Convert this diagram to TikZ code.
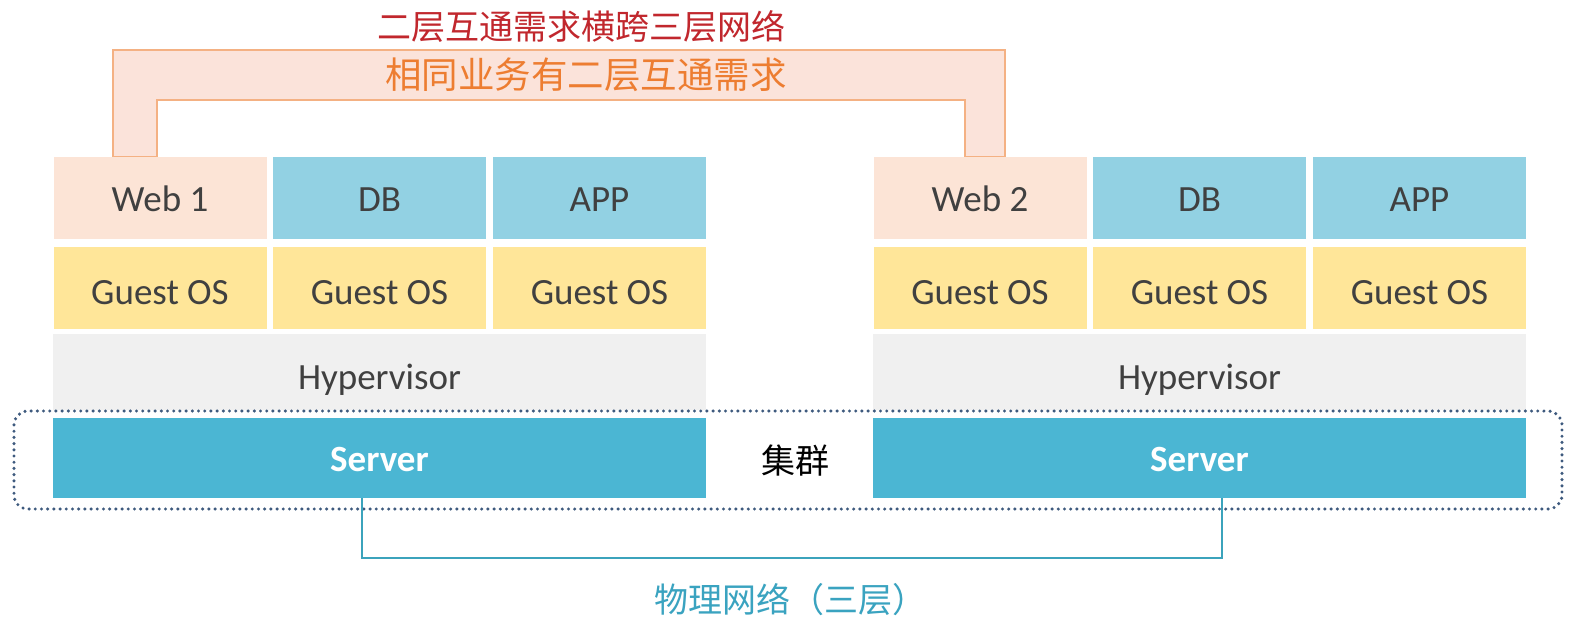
\documentclass[tikz,border=0pt]{standalone}
\usepackage{fontspec}
\setmainfont{Carlito}
\newfontfamily\cjk{Noto Sans CJK SC}
\definecolor{webfill}{HTML}{FCE4D6}
\definecolor{appfill}{HTML}{92D1E3}
\definecolor{osfill}{HTML}{FFE699}
\definecolor{hvfill}{HTML}{F0F0F0}
\definecolor{srvfill}{HTML}{4BB6D3}
\definecolor{txtgray}{HTML}{404040}
\definecolor{brfill}{HTML}{FBE3DA}
\definecolor{brline}{HTML}{F4B183}
\definecolor{netline}{HTML}{3BA3BC}
\definecolor{clusterline}{HTML}{3E5A7E}
\definecolor{redtxt}{HTML}{C1272D}
\definecolor{orangetxt}{HTML}{ED7D31}
\definecolor{tealtxt}{HTML}{3AA3C0}
\begin{document}
\begin{tikzpicture}[x=1pt,y=-1pt,
  blk/.style={inner sep=0pt, outer sep=0pt, text=txtgray, font=\fontsize{37}{40}\selectfont, text depth=0pt},
  vmbox/.style={blk, minimum width=213pt, minimum height=82pt},
  webbox/.style={vmbox, fill=webfill, text height=26pt},
  appbox/.style={vmbox, fill=appfill, text height=26pt},
  osbox/.style={vmbox, fill=osfill, text height=32pt},
  hvbox/.style={blk, fill=hvfill, minimum width=653pt, minimum height=76pt, text height=35pt},
  srvbox/.style={blk, fill=srvfill, text=white, font=\fontsize{37}{40}\selectfont\bfseries, minimum width=653pt, minimum height=80pt, text height=26pt},
  cjklabel/.style={inner sep=0pt, font=\cjk\fontsize{34}{38}\selectfont},
  bracket/.style={fill=brfill, draw=brline, line width=1.5pt},
  netwire/.style={draw=netline, line width=2pt},
  cluster/.style={draw=clusterline, line width=3.4pt, line cap=round, dash pattern=on 0pt off 6.2pt, rounded corners=14pt}
]
\useasboundingbox (0,0) rectangle (1569,618);
\fill[white] (0,0) rectangle (1569,618);

% orange bracket
\path[bracket] (113,157) -- (113,50) -- (1005,50) -- (1005,157) -- (965,157) -- (965,100) -- (157,100) -- (157,157) -- cycle;

% left host
\node[webbox] (web1) at (160,198) {Web 1};
\node[appbox] (db1) at (379.5,198) {DB};
\node[appbox] (app1) at (599.5,198) {APP};
\node[osbox] (os11) at (160,288) {Guest OS};
\node[osbox] (os12) at (379.5,288) {Guest OS};
\node[osbox] (os13) at (599.5,288) {Guest OS};
\node[hvbox] (hv1) at (379.5,372) {Hypervisor};
\node[srvbox] (srv1) at (379.5,458) {Server};

% right host
\node[webbox] (web2) at (980,198) {Web 2};
\node[appbox] (db2) at (1199.5,198) {DB};
\node[appbox] (app2) at (1419.5,198) {APP};
\node[osbox] (os21) at (980,288) {Guest OS};
\node[osbox] (os22) at (1199.5,288) {Guest OS};
\node[osbox] (os23) at (1419.5,288) {Guest OS};
\node[hvbox] (hv2) at (1199.5,372) {Hypervisor};
\node[srvbox] (srv2) at (1199.5,458) {Server};

% cluster
\draw[cluster] (14,411) rectangle (1562,509);
\node[cjklabel, text=black] (clu) at (795,461) {集群};

% physical network
\coordinate (p1) at ([xshift=-17.5pt]srv1.south);
\coordinate (p2) at ([xshift=22.5pt]srv2.south);
\draw[netwire] (p1) -- ++(0,60) -| (p2);
\node[cjklabel, text=tealtxt] (net) at (790,600) {物理网络（三层）};

% top labels
\node[cjklabel, text=redtxt] (t1) at (581,27) {二层互通需求横跨三层网络};
\node[cjklabel, text=orangetxt, font=\cjk\fontsize{36.5}{40}\selectfont] (t2) at (586,75) {相同业务有二层互通需求};
\end{tikzpicture}
\end{document}
